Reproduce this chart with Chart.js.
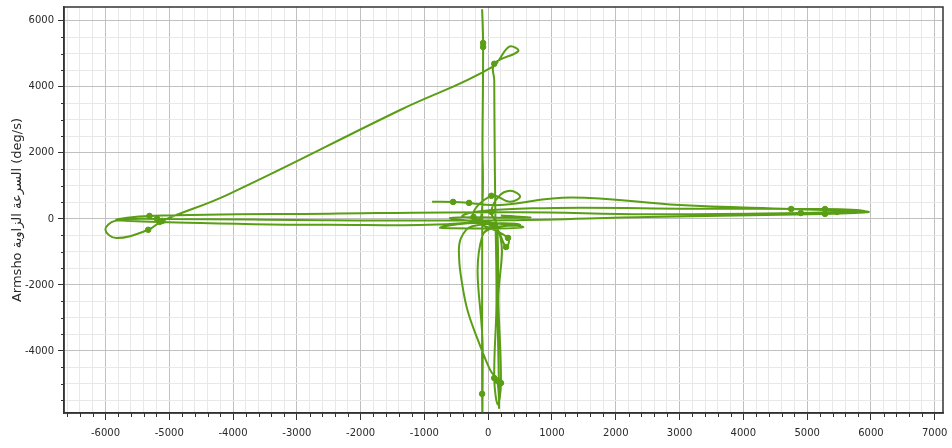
<!DOCTYPE html>
<html>
<head>
<meta charset="utf-8">
<script src="https://cdn.jsdelivr.net/npm/chart.js@4.4.1/dist/chart.umd.min.js"></script>
<style>
  html, body { margin: 0; padding: 0; background: #fff; }
</style>
</head>
<body>
<canvas id="chart" width="952" height="448"></canvas>
<script>
// trajectory of the angular rate (x, y), deg/s
const pathX = [-880, -550, -300, 50, 250, 1300, 3000, 4750, 5960, 5280, 2500, 300,
  -2500, -5190, -5850, -6000, -5830, -5330, -5110, -4090, -1380, 60, 330, 470, 95, 95,
  100, 110, 130, 95, 150, 200, 160, 150, -400, 700, 3000, 5280, 5900, 5470, 4900,
  2500, 500, -2500, -5310, -5830, -5150, -2500, -200, -100, -90, -80, -95, -80, -90,
  -95, -95, -90, -85, -90, 500, -250, -430, -455, -410, -320, -160, 30, 140, 170,
  150, 140, 50, 160, 345, 500, 345, 50, -230, 310, 280, 60, -750, 550, -600, 650, 200];
const pathY = [520, 515, 485, 420, 430, 650, 420, 300, 220, 150, 60, -40,
  -40, 0, -60, -330, -580, -330, -60, 730, 3300, 4600, 5220, 5080, 4700, 4200,
  2500, 500, -2500, -4820, -5620, -4970, -2500, -300, 100, 320, 310, 300, 240, 210, 180,
  140, 200, 160, 90, -30, -90, -180, -100, 200, 2500, 5330, 6330, 5210, 2000,
  -2000, -5300, -5950, -4000, -500, -180, -220, -600, -1200, -1950, -2800, -3670, -4575, -4900, -5700,
  -3000, -200, 210, 670, 850, 680, 520, 700, 60, -575, -850, -180, -270, -250, 30, 40, 100];

// sampled points shown with a marker
const dotX = [-550, -300, 4750, 5280, -5190, -5330, -5110, 95, 95, 200, 5280, 5470, 4900,
  -5310, -5150, -80, -80, -95, 140, 50, 50, -230, 310, 280, 60];
const dotY = [515, 485, 300, 150, 0, -330, -60, 4700, -4820, -4970, 300, 210, 180,
  90, -90, 5330, 5210, -5300, -4900, 210, 700, 60, -575, -850, -180];

const xLabelTicks = [-6000, -5000, -4000, -3000, -2000, -1000, 0, 1000, 2000, 3000, 4000, 5000, 6000, 7000];
const yLabelTicks = [-4000, -2000, 0, 2000, 4000, 6000];
const yTitle = 'Armsho السرعة الزاوية (deg/s)';

const green = '#5a9e16';
const isMajorX = v => Math.round(v) % 1000 === 0;
const isMajorY = v => Math.round(v) % 2000 === 0;

// minor ticks every 200 (x) and 500 (y)
function stepTicks(from, to, step) {
  const out = [];
  for (let v = from; v <= to; v += step) out.push({ value: v });
  return out;
}

// frame + short minor tick marks
const framePlugin = {
  id: 'frame',
  afterDraw(chart) {
    const { ctx, chartArea: a, scales } = chart;
    ctx.save();
    ctx.strokeStyle = '#333';
    ctx.lineWidth = 1;
    scales.x.ticks.forEach(t => {
      if (isMajorX(t.value)) return;
      const px = Math.round(scales.x.getPixelForValue(t.value)) + 0.5;
      ctx.beginPath(); ctx.moveTo(px, a.bottom); ctx.lineTo(px, a.bottom + 4); ctx.stroke();
    });
    scales.y.ticks.forEach(t => {
      if (isMajorY(t.value)) return;
      const py = Math.round(scales.y.getPixelForValue(t.value)) + 0.5;
      ctx.beginPath(); ctx.moveTo(a.left - 3, py); ctx.lineTo(a.left, py); ctx.stroke();
    });
    ctx.lineWidth = 1.5;
    ctx.strokeRect(a.left, a.top, a.right - a.left, a.bottom - a.top);
    ctx.restore();
  }
};

const labelFont = { family: 'DejaVu Sans', size: 10 };

new Chart(document.getElementById('chart'), {
  type: 'line',
  data: {
    datasets: [
      {
        data: pathX.map((x, i) => ({ x: x, y: pathY[i] })),
        borderColor: green,
        borderWidth: 2,
        pointRadius: 0,
        tension: 0.4,
        fill: false,
        order: 2
      },
      {
        type: 'scatter',
        data: dotX.map((x, i) => ({ x: x, y: dotY[i] })),
        backgroundColor: green,
        borderColor: green,
        pointRadius: 2.8,
        order: 1
      }
    ]
  },
  options: {
    responsive: false,
    animation: false,
    layout: { padding: { top: 7, right: 9, left: 0, bottom: 0 } },
    plugins: { legend: { display: false }, tooltip: { enabled: false } },
    scales: {
      x: {
        type: 'linear',
        min: -6650,
        max: 7130,
        afterBuildTicks: s => { s.ticks = stepTicks(-6600, 7000, 200); },
        afterFit: s => { s.height = 35; s.paddingLeft = 0; s.paddingRight = 0; },
        border: { color: '#333', width: 1.5 },
        grid: {
          color: c => isMajorX(c.tick.value) ? '#c0c0c0' : '#e8e8e8',
          tickColor: c => isMajorX(c.tick.value) ? '#333' : 'rgba(0,0,0,0)',
          tickLength: 7
        },
        ticks: {
          autoSkip: false,
          maxRotation: 0,
          minRotation: 0,
          padding: 7,
          color: '#2a2a2a',
          font: labelFont,
          callback: v => xLabelTicks.includes(Math.round(v)) ? String(Math.round(v)) : ''
        }
      },
      y: {
        type: 'linear',
        min: -5880,
        max: 6420,
        afterBuildTicks: s => { s.ticks = stepTicks(-5500, 6000, 500); },
        afterFit: s => { s.width = 64; s.paddingTop = 0; s.paddingBottom = 0; },
        border: { color: '#333', width: 1.5 },
        grid: {
          color: c => isMajorY(c.tick.value) ? '#c0c0c0' : '#e8e8e8',
          tickColor: c => isMajorY(c.tick.value) ? '#333' : 'rgba(0,0,0,0)',
          tickLength: 6
        },
        title: {
          display: true,
          text: yTitle,
          color: '#2a2a2a',
          font: { family: 'DejaVu Sans', size: 13 },
          padding: { top: 10, bottom: 0 }
        },
        ticks: {
          autoSkip: false,
          padding: 4,
          color: '#2a2a2a',
          font: labelFont,
          callback: v => yLabelTicks.includes(Math.round(v)) ? String(Math.round(v)) : ''
        }
      }
    }
  },
  plugins: [framePlugin]
});
</script>
</body>
</html>
